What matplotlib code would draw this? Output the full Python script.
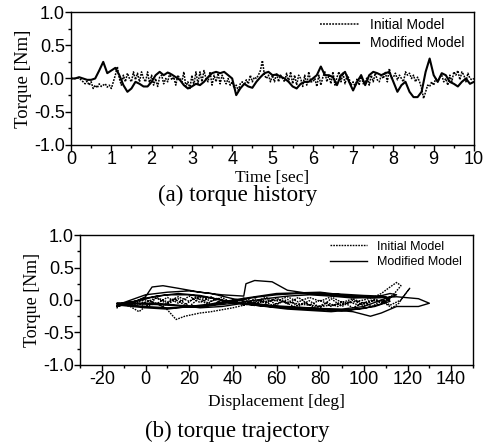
import numpy as np
import matplotlib
matplotlib.use("Agg")
import matplotlib.pyplot as plt
from matplotlib.ticker import MultipleLocator

# ---------------- data: (a) torque history ----------------
mod_time = [0.0, 0.1, 0.2, 0.3, 0.4, 0.5, 0.6, 0.7, 0.8, 0.9,
            1.0, 1.1, 1.2, 1.3, 1.4, 1.5, 1.6, 1.7, 1.8, 1.9,
            2.0, 2.1, 2.2, 2.3, 2.4, 2.5, 2.6, 2.7, 2.8, 2.9,
            3.0, 3.1, 3.2, 3.3, 3.4, 3.5, 3.6, 3.7, 3.8, 3.9,
            4.0, 4.1, 4.2, 4.3, 4.4, 4.5, 4.6, 4.7, 4.8, 4.9,
            5.0, 5.1, 5.2, 5.3, 5.4, 5.5, 5.6, 5.7, 5.8, 5.9,
            6.0, 6.1, 6.2, 6.3, 6.4, 6.5, 6.6, 6.7, 6.8, 6.9,
            7.0, 7.1, 7.2, 7.3, 7.4, 7.5, 7.6, 7.7, 7.8, 7.9,
            8.0, 8.1, 8.2, 8.3, 8.4, 8.5, 8.6, 8.7, 8.8, 8.9,
            9.0, 9.1, 9.2, 9.3, 9.4, 9.5, 9.6, 9.7, 9.8, 9.9, 10.0]
mod_torque = [0.0, 0.0, 0.02, 0.0, -0.02, -0.02, 0.0, 0.12, 0.25, 0.08,
              0.12, 0.16, 0.05, -0.1, -0.2, -0.15, -0.05, -0.08, -0.12, -0.12,
              -0.05, 0.05, 0.1, 0.05, 0.09, 0.06, 0.02, -0.02, -0.1, -0.15,
              -0.12, -0.08, -0.1, -0.05, 0.02, 0.08, 0.1, 0.08, 0.1, 0.05,
              0.0, -0.25, -0.15, -0.08, -0.12, -0.14, -0.05, 0.02, 0.08, 0.1,
              0.05, 0.06, 0.03, 0.0, -0.05, -0.12, -0.15, -0.08, -0.05, -0.05,
              0.0, 0.05, 0.18, 0.05, 0.05, 0.02, -0.1, 0.05, 0.1, -0.05,
              -0.18, -0.05, 0.05, -0.1, 0.05, 0.1, 0.08, 0.05, 0.08, 0.1,
              -0.05, -0.2, -0.1, -0.05, -0.2, -0.28, -0.28, -0.2, 0.1, 0.3,
              0.05, -0.05, 0.08, 0.05, -0.05, -0.08, -0.12, -0.05, 0.0, -0.08, -0.05]

init_time = [i * 0.05 for i in range(201)]
init_torque = [
    0.0, 0.0, 0.0, 0.01, 0.0, -0.02, -0.05, -0.08, -0.04, -0.1, -0.05, -0.15, -0.1, -0.14, -0.08, -0.12, -0.1, -0.08, -0.13, -0.1,
    -0.15, -0.05, 0.05, 0.18, 0.0, -0.1, 0.05, -0.05, 0.08, 0.0, -0.05, 0.1, -0.02, 0.08, -0.05, 0.1, 0.0, -0.05, 0.1, -0.08,
    0.05, -0.1, 0.0, -0.12, 0.02, 0.05, -0.08, 0.0, -0.05, 0.08, -0.02, 0.02, -0.1, 0.05, 0.0, -0.05, 0.1, -0.12, -0.05, -0.15,
    0.05, -0.1, 0.1, -0.08, 0.1, -0.05, 0.12, 0.0, -0.05, 0.1, -0.1, 0.05, -0.05, 0.08, -0.08, 0.05, -0.02, -0.08, 0.0, -0.1,
    -0.05, -0.15, -0.1, -0.18, -0.08, -0.05, -0.1, -0.02, -0.08, 0.05, -0.05, 0.02, 0.0, 0.05, 0.12, 0.27, 0.05, 0.0, 0.05, -0.05,
    0.05, -0.05, 0.08, -0.05, 0.05, 0.0, -0.05, 0.08, -0.05, 0.1, -0.08, 0.05, -0.1, 0.05, 0.0, -0.12, 0.05, -0.1, 0.1, -0.05,
    -0.05, 0.0, -0.12, 0.05, -0.1, 0.02, 0.1, -0.05, 0.05, -0.08, 0.1, -0.1, 0.02, 0.1, -0.05, 0.08, -0.08, 0.05, 0.0, -0.1,
    -0.05, -0.12, 0.0, -0.1, 0.05, -0.08, -0.05, 0.02, -0.1, 0.05, -0.05, 0.08, -0.02, -0.05, 0.05, 0.0, 0.1, -0.05, 0.15, 0.0,
    0.02, 0.08, -0.02, 0.05, 0.0, -0.05, 0.1, 0.05, 0.08, 0.0, 0.05, -0.05, 0.02, -0.05, -0.15, -0.3, -0.2, -0.1, -0.12, -0.05,
    -0.1, 0.0, -0.05, 0.02, 0.05, -0.05, 0.0, -0.1, 0.05, -0.05, 0.1, 0.05, 0.12, -0.02, 0.1, 0.05, -0.05, 0.08, 0.0, -0.02, 0.0]

# ---------------- data: (b) torque trajectory ----------------
mod_disp = [
    -13, -13, -10, -5, 0, 3, 8, 15, 25, 35, 45, 46, 50, 58, 65, 75, 85, 95, 105, 115, 125, 130,
    125, 115, 108, 103, 95, 85, 75, 65, 55, 45, 35, 25, 15, 5, -5, -13,
    -12, -5, 0, 10, 20, 30, 40, 50, 60, 70, 80, 90, 100, 108, 112,
    108, 100, 90, 80, 70, 60, 50, 40, 30, 20, 10, 0, -10,
    -13, -5, 5, 15, 25, 35, 45, 55, 65, 75, 85, 95, 105, 112,
    110, 100, 90, 80, 70, 60, 50, 40, 30, 20, 10, 0, -12,
    -10, 0, 10, 20, 30, 40, 50, 60, 70, 80, 90, 100, 108, 115, 112,
    105, 95, 85, 75, 65, 55, 45, 35, 25, 15, 5, -5, -13]
mod_traj = [
    -0.12, -0.05, -0.05, -0.03, 0.05, 0.2, 0.22, 0.18, 0.12, 0.08, 0.06, 0.25, 0.3, 0.28, 0.15, 0.1, 0.08, 0.05, 0.03, 0.05, 0.02, -0.05,
    -0.1, -0.1, -0.2, -0.25, -0.18, -0.15, -0.12, -0.1, -0.08, -0.05, -0.1, -0.12, -0.08, -0.05, -0.05, -0.08,
    -0.06, -0.02, 0.03, 0.08, 0.08, 0.03, -0.04, -0.08, -0.11, -0.13, -0.15, -0.16, -0.13, -0.06, 0.02,
    0.06, 0.07, 0.09, 0.1, 0.1, 0.08, 0.04, -0.02, -0.08, -0.11, -0.12, -0.1, -0.07,
    -0.1, -0.03, 0.06, 0.1, 0.07, 0.0, -0.06, -0.1, -0.14, -0.16, -0.18, -0.15, -0.1, -0.02,
    0.05, 0.05, 0.08, 0.12, 0.11, 0.1, 0.05, 0.0, -0.06, -0.1, -0.14, -0.12, -0.08,
    -0.04, 0.08, 0.12, 0.14, 0.1, 0.02, -0.05, -0.1, -0.12, -0.13, -0.14, -0.1, 0.0, 0.08, 0.1,
    0.04, 0.03, 0.06, 0.08, 0.06, 0.02, -0.03, -0.07, -0.1, -0.09, -0.07, -0.06, -0.05]

init_disp = [
    -12, -7, -3, 0, 5, 10, 14, 18, 25, 30, 35, 40, 45, 50, 55, 60, 65, 70, 75, 80, 85, 90, 95, 100, 105, 108, 112, 115, 117, 114, 110,
    105, 100, 95, 90, 85, 80, 75, 70, 65, 60, 55, 50, 45, 40, 35, 30, 25, 20, 15, 10, 5, 0, -5,
    0, 5, 10, 15, 20, 25, 30, 35, 40, 45, 50, 55, 60, 65, 70, 75, 80, 85, 90, 95, 100, 105, 110, 113, 116, 118, 121,
    117, 112, 108, 104, 100, 95, 90, 85, 80, 75, 70, 65, 60, 55, 50, 45, 40, 35, 30, 25, 20, 15, 10, 5, 0, -8,
    -4, 2, 8, 13, 18, 23, 28, 33, 38, 43, 48, 53, 58, 63, 68, 73, 78, 83, 88, 93, 98, 103, 108, 112]
init_traj = [
    -0.05, -0.1, -0.18, -0.1, -0.05, -0.15, -0.3, -0.25, -0.2, -0.18, -0.15, -0.12, -0.08, -0.05, -0.02, 0.0, -0.03, -0.06, -0.08, -0.1, -0.08, -0.06, -0.03, 0.0, 0.05, 0.1, 0.2, 0.27, 0.22, 0.1, -0.02,
    0.0, -0.06, 0.02, -0.04, 0.05, -0.02, 0.04, -0.03, 0.05, -0.02, 0.04, -0.03, 0.03, -0.05, 0.04, -0.02, 0.06, -0.02, 0.05, -0.03, 0.04, -0.04, -0.02,
    -0.1, 0.03, -0.06, 0.02, -0.1, 0.04, -0.08, 0.0, -0.06, 0.02, -0.09, 0.02, -0.07, 0.01, -0.1, -0.01, -0.12, 0.02, -0.1, 0.0, -0.09, 0.01, -0.06, -0.12, -0.05, 0.05, 0.18,
    0.0, -0.08, 0.0, -0.1, -0.03, -0.12, -0.02, -0.1, 0.0, -0.08, 0.04, -0.06, 0.03, -0.05, 0.02, -0.08, 0.0, -0.06, 0.05, -0.04, 0.06, -0.05, 0.04, -0.06, 0.0, -0.03,
    -0.08, -0.01, -0.1, 0.02, -0.08, 0.05, -0.06, 0.03, -0.04, 0.0, -0.06, 0.0, -0.08, -0.02, -0.1, -0.04, -0.12, -0.04, -0.1, -0.03, -0.08, 0.0, -0.04, 0.05]

legend_labels = ["Initial Model", "Modified Model"]
captions = ["(a) torque history", "(b) torque trajectory"]

# ---------------- plotting ----------------
serif = "Liberation Serif"
sans = "Liberation Sans"
plt.rcParams["font.family"] = sans
plt.rcParams["axes.unicode_minus"] = False

fig = plt.figure(figsize=(4.84, 4.43), dpi=100)
ax1 = fig.add_axes([0.1467, 0.6727, 0.8326, 0.3002])
ax2 = fig.add_axes([0.1653, 0.1761, 0.8120, 0.2934])

dot = (0, (1.2, 0.8))

l1, = ax1.plot(init_time, init_torque, color="black", lw=1.1, ls=dot)
l2, = ax1.plot(mod_time, mod_torque, color="black", lw=1.5)
ax1.set_xlim(0, 10)
ax1.set_ylim(-1, 1)
ax1.xaxis.set_major_locator(MultipleLocator(1))
ax1.xaxis.set_minor_locator(MultipleLocator(0.5))
ax1.yaxis.set_major_locator(MultipleLocator(0.5))
ax1.yaxis.set_minor_locator(MultipleLocator(0.25))
ax1.set_xlabel("Time [sec]", family=serif, fontsize=12.5, labelpad=1)
ax1.set_ylabel("Torque [Nm]", family=serif, fontsize=13.5, labelpad=1)
ax1.legend([l1, l2], legend_labels, loc="upper right", frameon=False,
           fontsize=10, handlelength=2.8, borderaxespad=0.0, labelspacing=0.35,
           bbox_to_anchor=(0.99, 1.0))

l3, = ax2.plot(init_disp, init_traj, color="black", lw=1.0, ls=dot)
l4, = ax2.plot(mod_disp, mod_traj, color="black", lw=1.0)
ax2.set_xlim(-30, 150)
ax2.set_ylim(-1, 1)
ax2.xaxis.set_major_locator(MultipleLocator(20))
ax2.xaxis.set_minor_locator(MultipleLocator(10))
ax2.yaxis.set_major_locator(MultipleLocator(0.5))
ax2.yaxis.set_minor_locator(MultipleLocator(0.25))
ax2.set_xlabel("Displacement [deg]", family=serif, fontsize=12.5, labelpad=4)
ax2.set_ylabel("Torque [Nm]", family=serif, fontsize=13, labelpad=1)
ax2.legend([l3, l4], legend_labels, loc="upper right", frameon=False,
           fontsize=9, handlelength=3.0, borderaxespad=0.0, labelspacing=0.3,
           bbox_to_anchor=(0.985, 0.995))

for ax in (ax1, ax2):
    ax.tick_params(which="major", direction="out", length=4, width=1, labelsize=13, pad=0.5)
    ax.tick_params(which="minor", direction="out", length=2.5, width=1)
    for s in ax.spines.values():
        s.set_linewidth(1.0)

fig.text(0.49, 0.558, captions[0], family=serif, fontsize=16.5, ha="center", va="center")
fig.text(0.49, 0.027, captions[1], family=serif, fontsize=16.5, ha="center", va="center")

fig.savefig("out.png", dpi=100)
